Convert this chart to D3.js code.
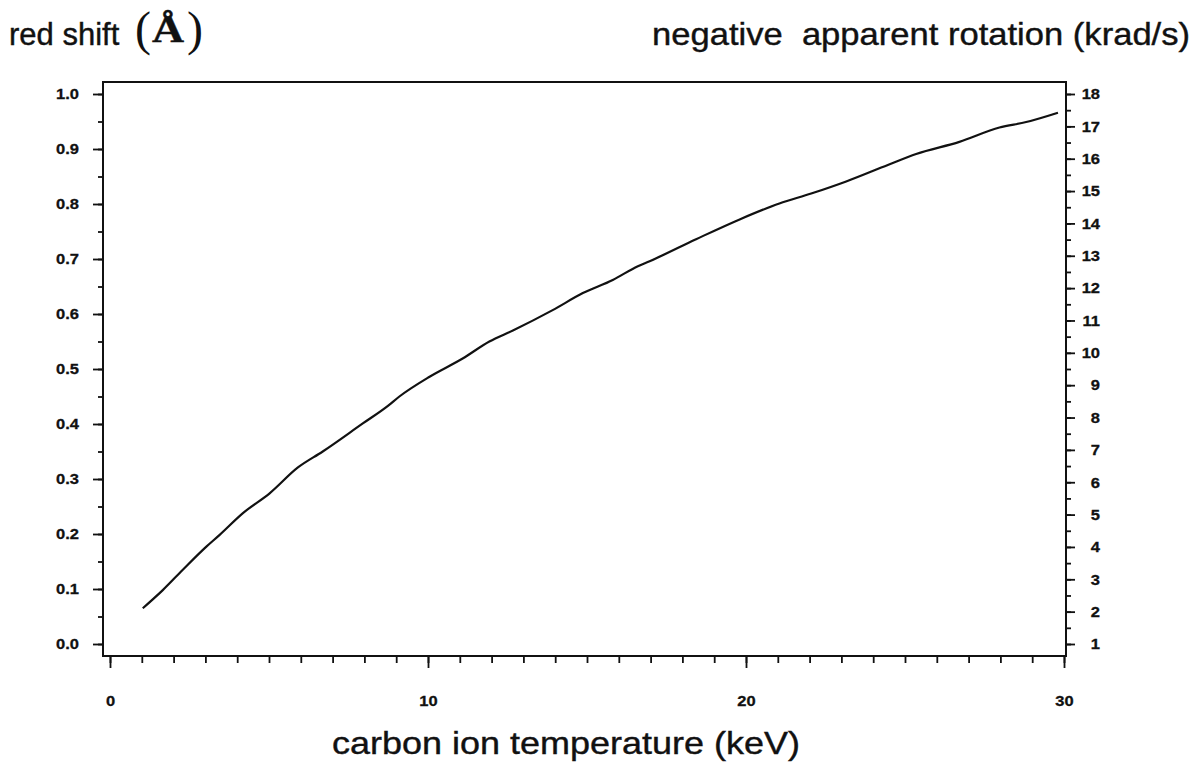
<!DOCTYPE html>
<html>
<head>
<meta charset="utf-8">
<script src="https://cdn.jsdelivr.net/npm/d3@7"></script>
<style>
  html, body { margin: 0; padding: 0; background: #fff; }
  svg { display: block; }
  .tick text { font-family: "Liberation Sans", Arial, sans-serif; font-weight: bold; font-size: 15px; fill: #111; stroke: #111; stroke-width: 0.3px; }
  .title { font-family: "Liberation Sans", Arial, sans-serif; font-size: 32px; fill: #111; stroke: #111; stroke-width: 0.4px; }
</style>
</head>
<body>
<svg id="chart" width="1199" height="764"></svg>
<script>
// Carbon ion temperature (keV) and the corresponding red shift (Å)
const temperature = [1.03, 1.66, 2.29, 3.03, 3.44, 4.18, 5.02, 5.91, 6.69, 7.95, 8.74, 9.10,
  10.05, 11.09, 11.93, 12.67, 13.92, 14.87, 15.81, 16.60, 16.97, 18.43, 19.80, 21.05,
  22.05, 23.15, 24.46, 25.35, 26.71, 27.97, 28.81, 29.81];
const redShift = [0.065, 0.098, 0.135, 0.177, 0.198, 0.238, 0.274, 0.321, 0.350, 0.401, 0.433, 0.450,
  0.486, 0.519, 0.550, 0.570, 0.607, 0.638, 0.662, 0.687, 0.696, 0.736, 0.772, 0.801,
  0.819, 0.841, 0.871, 0.891, 0.913, 0.939, 0.949, 0.966];

// Tick values
const xMajorTicks = [0, 10, 20, 30];
const xMinorTicks = d3.range(0, 31, 1);
const leftMajorTicks = [0.0, 0.1, 0.2, 0.3, 0.4, 0.5, 0.6, 0.7, 0.8, 0.9, 1.0];
const leftMinorTicks = d3.range(0, 21).map(i => i * 0.05);
const rightMajorTicks = d3.range(1, 19);
const rightMinorTicks = d3.range(1, 18.01, 0.5);

const svg = d3.select("#chart");
const frame = { left: 103, right: 1066, top: 82, bottom: 656 };
const sx = 1.1; // horizontal stretch of the tick-label glyphs

const x = d3.scaleLinear().domain([0, 30]).range([110, 1064]);
const yLeft = d3.scaleLinear().domain([0, 1]).range([644, 94]);
const yRight = d3.scaleLinear().domain([1, 18]).range([644, 94]);

// Plot frame
svg.append("rect")
  .attr("x", frame.left).attr("y", frame.top)
  .attr("width", frame.right - frame.left).attr("height", frame.bottom - frame.top)
  .attr("fill", "none").attr("stroke", "#111").attr("stroke-width", 2);

function styleAxis(g) {
  g.select(".domain").remove();
  g.selectAll(".tick line").attr("stroke", "#111").attr("stroke-width", 1.8);
}

// Bottom axis
svg.append("g").attr("transform", `translate(0,${frame.bottom})`)
  .call(d3.axisBottom(x).tickValues(xMinorTicks).tickSize(7).tickFormat(""))
  .call(styleAxis);
svg.append("g").attr("transform", `translate(0,${frame.bottom})`)
  .call(d3.axisBottom(x).tickValues(xMajorTicks).tickSize(12).tickFormat(d3.format("d")))
  .call(styleAxis)
  .call(g => g.selectAll(".tick text")
    .attr("y", 50).attr("dy", 0)
    .attr("transform", `scale(${sx},1)`));

// Left axis: red shift
svg.append("g").attr("transform", `translate(${frame.left},0)`)
  .call(d3.axisLeft(yLeft).tickValues(leftMinorTicks).tickSize(5).tickFormat(""))
  .call(styleAxis);
svg.append("g").attr("transform", `translate(${frame.left},0)`)
  .call(d3.axisLeft(yLeft).tickValues(leftMajorTicks).tickSize(10).tickFormat(d3.format(".1f")))
  .call(styleAxis)
  .call(g => g.selectAll(".tick text")
    .attr("x", -24 / sx)
    .attr("transform", `scale(${sx},1)`));

// Right axis: negative apparent rotation
svg.append("g").attr("transform", `translate(${frame.right},0)`)
  .call(d3.axisRight(yRight).tickValues(rightMinorTicks).tickSize(5).tickFormat(""))
  .call(styleAxis);
svg.append("g").attr("transform", `translate(${frame.right},0)`)
  .call(d3.axisRight(yRight).tickValues(rightMajorTicks).tickSize(9).tickFormat(d3.format("d")))
  .call(styleAxis)
  .call(g => g.selectAll(".tick text")
    .attr("text-anchor", "end")
    .attr("x", 34 / sx)
    .attr("transform", `scale(${sx},1)`));

// Curve
const line = d3.line()
  .x((d, i) => x(temperature[i]))
  .y(d => yLeft(d))
  .curve(d3.curveMonotoneX);
svg.append("path")
  .datum(redShift)
  .attr("d", line)
  .attr("fill", "none")
  .attr("stroke", "#111")
  .attr("stroke-width", 2.2)
  .attr("stroke-linejoin", "round");

// Titles
const serif = "'Liberation Serif', 'Times New Roman', serif";
svg.append("text").attr("class", "title").attr("x", 9).attr("y", 45)
  .style("font-size", "31px").text("red shift");
svg.append("text").attr("class", "title").attr("x", 135).attr("y", 45)
  .style("font-family", serif).style("font-size", "48px").style("stroke-width", "0")
  .text("(");
svg.append("text").attr("class", "title")
  .attr("transform", "translate(152,42) scale(1.2,1)")
  .style("font-family", serif).style("font-weight", "bold").style("font-size", "37px")
  .text("Å");
svg.append("text").attr("class", "title").attr("x", 187).attr("y", 45)
  .style("font-family", serif).style("font-size", "48px").style("stroke-width", "0")
  .text(")");

svg.append("text").attr("class", "title")
  .attr("x", 652).attr("y", 45)
  .attr("textLength", 538).attr("lengthAdjust", "spacingAndGlyphs")
  .attr("xml:space", "preserve")
  .text("negative  apparent rotation (krad/s)");

svg.append("text").attr("class", "title")
  .attr("x", 332).attr("y", 754)
  .attr("textLength", 468).attr("lengthAdjust", "spacingAndGlyphs")
  .text("carbon ion temperature (keV)");
</script>
</body>
</html>
